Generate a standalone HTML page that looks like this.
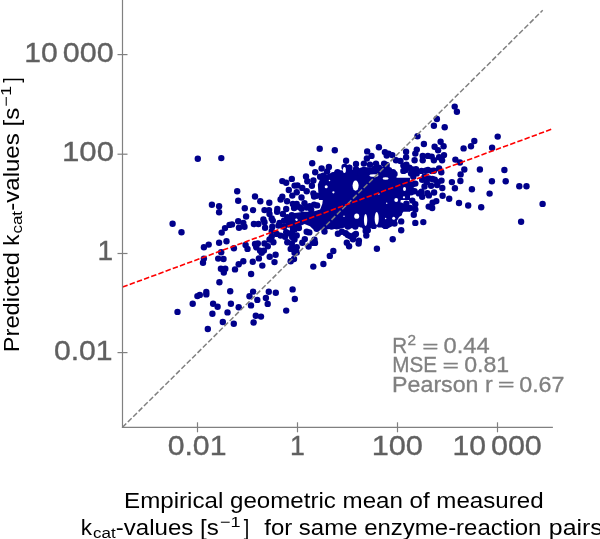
<!DOCTYPE html>
<html><head><meta charset="utf-8">
<style>
html,body{margin:0;padding:0;background:#fff;width:600px;height:539px;overflow:hidden}
svg{display:block;will-change:transform}
text{font-family:"Liberation Sans",sans-serif}
</style></head><body>
<svg width="600" height="539" viewBox="0 0 600 539">
<rect width="600" height="539" fill="#fff"/>
<!-- DOTS -->
<g id="dots" fill="#00008b"><polygon points="318.9,200.0 317.8,184.5 321.2,176.7 326.7,174.5 333.4,172.3 336.8,170.1 342.3,171.2 347.9,165.6 350.0,164.5 350.0,200.0"/><polygon points="350.0,170.1 356.7,168.9 363.4,166.7 370.0,167.8 377.8,166.7 383.4,166.7 387.8,168.9 394.5,174.5 396.8,177.8 410.0,177.8 410.0,200.0 350.0,200.0"/><polygon points="290.0,213.4 296.7,212.8 303.4,211.7 312.3,211.7 316.7,210.6 320.1,209.5 322.3,203.9 323.4,195.0 350.0,195.0 350.0,228.4 345.7,227.3 341.2,228.4 336.8,229.5 332.3,228.4 326.7,229.5 321.2,229.5 316.7,231.7 312.3,228.4 310.0,226.2 304.5,223.9 300.0,226.2 296.7,228.4 293.3,230.6 290.0,231.7"/><polygon points="350.0,195.0 392.3,195.0 394.5,200.6 402.3,202.8 405.7,205.0 407.9,203.9 410.0,206.1 410.0,211.7 403.4,211.7 399.0,217.3 394.5,225.1 387.8,228.4 383.4,228.4 377.8,225.1 374.5,227.3 368.9,228.4 364.5,231.7 361.1,226.2 356.7,227.3 350.0,228.4"/><circle cx="197.8" cy="158.8" r="3.2"/><circle cx="221.3" cy="158.1" r="3.2"/><circle cx="172.6" cy="223.8" r="3.2"/><circle cx="181.5" cy="232.2" r="3.2"/><circle cx="211.9" cy="204.8" r="3.2"/><circle cx="219.1" cy="206.3" r="3.2"/><circle cx="219.1" cy="212.3" r="3.2"/><circle cx="237.2" cy="191.2" r="3.2"/><circle cx="238.2" cy="200.8" r="3.2"/><circle cx="238.2" cy="221.2" r="3.2"/><circle cx="232.0" cy="224.4" r="3.2"/><circle cx="229.5" cy="224.9" r="3.2"/><circle cx="225.0" cy="228.1" r="3.2"/><circle cx="239.0" cy="227.8" r="3.2"/><circle cx="221.7" cy="232.6" r="3.2"/><circle cx="226.5" cy="241.2" r="3.2"/><circle cx="219.1" cy="242.7" r="3.2"/><circle cx="208.7" cy="244.6" r="3.2"/><circle cx="203.9" cy="247.3" r="3.2"/><circle cx="233.9" cy="248.3" r="3.2"/><circle cx="221.2" cy="252.3" r="3.2"/><circle cx="203.9" cy="258.6" r="3.2"/><circle cx="203.0" cy="262.7" r="3.2"/><circle cx="218.2" cy="258.6" r="3.2"/><circle cx="223.5" cy="259.0" r="3.2"/><circle cx="238.7" cy="264.2" r="3.2"/><circle cx="220.9" cy="268.7" r="3.2"/><circle cx="225.3" cy="268.7" r="3.2"/><circle cx="235.0" cy="269.4" r="3.2"/><circle cx="223.8" cy="272.6" r="3.2"/><circle cx="219.4" cy="282.3" r="3.2"/><circle cx="230.2" cy="291.2" r="3.2"/><circle cx="206.3" cy="291.9" r="3.2"/><circle cx="206.3" cy="294.4" r="3.2"/><circle cx="199.8" cy="294.9" r="3.2"/><circle cx="197.4" cy="296.1" r="3.2"/><circle cx="192.7" cy="303.8" r="3.2"/><circle cx="177.5" cy="311.9" r="3.2"/><circle cx="213.1" cy="303.8" r="3.2"/><circle cx="217.6" cy="306.8" r="3.2"/><circle cx="230.9" cy="303.8" r="3.2"/><circle cx="238.7" cy="307.2" r="3.2"/><circle cx="227.5" cy="312.4" r="3.2"/><circle cx="212.4" cy="313.7" r="3.2"/><circle cx="222.8" cy="322.0" r="3.2"/><circle cx="233.8" cy="323.8" r="3.2"/><circle cx="207.8" cy="329.0" r="3.2"/><circle cx="312.2" cy="163.3" r="3.2"/><circle cx="244.8" cy="208.2" r="3.2"/><circle cx="246.1" cy="216.5" r="3.2"/><circle cx="243.3" cy="222.9" r="3.2"/><circle cx="255.0" cy="196.5" r="3.2"/><circle cx="260.3" cy="201.2" r="3.2"/><circle cx="253.1" cy="210.1" r="3.2"/><circle cx="269.3" cy="202.8" r="3.2"/><circle cx="264.5" cy="210.1" r="3.2"/><circle cx="269.0" cy="210.1" r="3.2"/><circle cx="263.4" cy="219.5" r="3.2"/><circle cx="269.5" cy="214.0" r="3.2"/><circle cx="271.7" cy="218.4" r="3.2"/><circle cx="253.9" cy="224.0" r="3.2"/><circle cx="258.4" cy="224.0" r="3.2"/><circle cx="277.3" cy="209.0" r="3.2"/><circle cx="277.1" cy="211.8" r="3.2"/><circle cx="282.3" cy="181.1" r="3.2"/><circle cx="286.2" cy="182.8" r="3.2"/><circle cx="291.8" cy="178.9" r="3.2"/><circle cx="288.8" cy="190.0" r="3.2"/><circle cx="282.3" cy="196.7" r="3.2"/><circle cx="280.6" cy="199.5" r="3.2"/><circle cx="287.1" cy="201.2" r="3.2"/><circle cx="292.3" cy="195.6" r="3.2"/><circle cx="292.9" cy="204.0" r="3.2"/><circle cx="286.2" cy="209.0" r="3.2"/><circle cx="294.6" cy="185.6" r="3.2"/><circle cx="282.9" cy="214.0" r="3.2"/><circle cx="287.3" cy="217.3" r="3.2"/><circle cx="291.8" cy="215.1" r="3.2"/><circle cx="284.0" cy="220.7" r="3.2"/><circle cx="289.5" cy="221.8" r="3.2"/><circle cx="294.0" cy="220.7" r="3.2"/><circle cx="279.5" cy="222.9" r="3.2"/><circle cx="244.5" cy="226.7" r="3.2"/><circle cx="265.1" cy="227.8" r="3.2"/><circle cx="264.5" cy="222.2" r="3.2"/><circle cx="272.8" cy="220.6" r="3.2"/><circle cx="272.3" cy="226.7" r="3.2"/><circle cx="278.4" cy="225.6" r="3.2"/><circle cx="271.7" cy="231.1" r="3.2"/><circle cx="245.6" cy="245.0" r="3.2"/><circle cx="247.5" cy="248.9" r="3.2"/><circle cx="255.0" cy="243.9" r="3.2"/><circle cx="257.8" cy="243.4" r="3.2"/><circle cx="256.2" cy="247.3" r="3.2"/><circle cx="260.0" cy="250.6" r="3.2"/><circle cx="263.9" cy="250.6" r="3.2"/><circle cx="261.7" cy="252.8" r="3.2"/><circle cx="264.5" cy="243.4" r="3.2"/><circle cx="267.8" cy="246.2" r="3.2"/><circle cx="269.5" cy="239.5" r="3.2"/><circle cx="273.4" cy="242.3" r="3.2"/><circle cx="271.7" cy="236.7" r="3.2"/><circle cx="276.7" cy="233.9" r="3.2"/><circle cx="280.6" cy="235.6" r="3.2"/><circle cx="286.2" cy="232.2" r="3.2"/><circle cx="284.0" cy="226.7" r="3.2"/><circle cx="288.4" cy="224.5" r="3.2"/><circle cx="292.9" cy="227.8" r="3.2"/><circle cx="285.1" cy="236.7" r="3.2"/><circle cx="289.5" cy="233.4" r="3.2"/><circle cx="294.0" cy="235.6" r="3.2"/><circle cx="287.3" cy="242.3" r="3.2"/><circle cx="291.8" cy="243.4" r="3.2"/><circle cx="290.7" cy="248.9" r="3.2"/><circle cx="294.0" cy="247.8" r="3.2"/><circle cx="258.9" cy="258.4" r="3.2"/><circle cx="252.8" cy="261.7" r="3.2"/><circle cx="243.3" cy="261.2" r="3.2"/><circle cx="262.3" cy="265.6" r="3.2"/><circle cx="251.1" cy="274.0" r="3.2"/><circle cx="269.7" cy="256.7" r="3.2"/><circle cx="275.6" cy="254.7" r="3.2"/><circle cx="274.5" cy="262.1" r="3.2"/><circle cx="290.7" cy="261.2" r="3.2"/><circle cx="294.0" cy="259.0" r="3.2"/><circle cx="253.1" cy="291.6" r="3.2"/><circle cx="249.5" cy="296.2" r="3.2"/><circle cx="257.3" cy="299.9" r="3.2"/><circle cx="251.0" cy="305.4" r="3.2"/><circle cx="268.8" cy="291.8" r="3.2"/><circle cx="275.8" cy="292.8" r="3.2"/><circle cx="265.9" cy="298.0" r="3.2"/><circle cx="267.7" cy="303.9" r="3.2"/><circle cx="292.6" cy="289.4" r="3.2"/><circle cx="294.8" cy="299.0" r="3.2"/><circle cx="286.2" cy="310.6" r="3.2"/><circle cx="255.8" cy="315.8" r="3.2"/><circle cx="261.0" cy="316.6" r="3.2"/><circle cx="253.6" cy="322.5" r="3.2"/><circle cx="319.7" cy="148.7" r="3.2"/><circle cx="334.8" cy="150.2" r="3.2"/><circle cx="367.2" cy="151.4" r="3.2"/><circle cx="346.1" cy="160.8" r="3.2"/><circle cx="356.0" cy="164.0" r="3.2"/><circle cx="363.9" cy="163.6" r="3.2"/><circle cx="366.9" cy="158.5" r="3.2"/><circle cx="321.6" cy="168.5" r="3.2"/><circle cx="328.9" cy="167.0" r="3.2"/><circle cx="315.2" cy="172.2" r="3.2"/><circle cx="344.6" cy="167.0" r="3.2"/><circle cx="349.4" cy="167.7" r="3.2"/><circle cx="356.0" cy="169.2" r="3.2"/><circle cx="337.5" cy="172.2" r="3.2"/><circle cx="327.1" cy="171.4" r="3.2"/><circle cx="417.5" cy="136.3" r="3.2"/><circle cx="423.9" cy="144.0" r="3.2"/><circle cx="378.9" cy="147.2" r="3.2"/><circle cx="384.9" cy="152.1" r="3.2"/><circle cx="388.6" cy="153.6" r="3.2"/><circle cx="392.3" cy="155.1" r="3.2"/><circle cx="406.1" cy="151.7" r="3.2"/><circle cx="416.8" cy="149.6" r="3.2"/><circle cx="415.3" cy="153.6" r="3.2"/><circle cx="406.1" cy="157.3" r="3.2"/><circle cx="414.6" cy="160.3" r="3.2"/><circle cx="422.7" cy="155.9" r="3.2"/><circle cx="427.9" cy="155.9" r="3.2"/><circle cx="422.7" cy="160.3" r="3.2"/><circle cx="371.5" cy="155.9" r="3.2"/><circle cx="376.0" cy="163.6" r="3.2"/><circle cx="384.1" cy="163.6" r="3.2"/><circle cx="396.0" cy="160.3" r="3.2"/><circle cx="400.5" cy="161.0" r="3.2"/><circle cx="370.0" cy="164.8" r="3.2"/><circle cx="386.4" cy="167.7" r="3.2"/><circle cx="406.4" cy="164.8" r="3.2"/><circle cx="409.4" cy="167.7" r="3.2"/><circle cx="416.0" cy="169.2" r="3.2"/><circle cx="355.9" cy="172.2" r="3.2"/><circle cx="360.4" cy="172.9" r="3.2"/><circle cx="367.8" cy="170.7" r="3.2"/><circle cx="376.7" cy="169.2" r="3.2"/><circle cx="393.0" cy="172.2" r="3.2"/><circle cx="425.7" cy="170.7" r="3.2"/><circle cx="454.7" cy="106.6" r="3.2"/><circle cx="456.9" cy="111.8" r="3.2"/><circle cx="436.9" cy="119.0" r="3.2"/><circle cx="433.9" cy="125.7" r="3.2"/><circle cx="444.7" cy="127.2" r="3.2"/><circle cx="497.7" cy="136.6" r="3.2"/><circle cx="474.3" cy="141.0" r="3.2"/><circle cx="471.0" cy="146.2" r="3.2"/><circle cx="463.6" cy="148.4" r="3.2"/><circle cx="492.1" cy="147.7" r="3.2"/><circle cx="440.6" cy="141.8" r="3.2"/><circle cx="443.6" cy="146.2" r="3.2"/><circle cx="434.6" cy="146.7" r="3.2"/><circle cx="438.1" cy="150.2" r="3.2"/><circle cx="431.7" cy="156.6" r="3.2"/><circle cx="433.9" cy="160.3" r="3.2"/><circle cx="439.1" cy="157.3" r="3.2"/><circle cx="444.0" cy="155.1" r="3.2"/><circle cx="442.1" cy="160.3" r="3.2"/><circle cx="428.0" cy="170.0" r="3.2"/><circle cx="433.9" cy="170.7" r="3.2"/><circle cx="439.1" cy="168.5" r="3.2"/><circle cx="441.3" cy="172.2" r="3.2"/><circle cx="455.4" cy="159.6" r="3.2"/><circle cx="459.9" cy="162.5" r="3.2"/><circle cx="464.3" cy="169.5" r="3.2"/><circle cx="479.9" cy="169.5" r="3.2"/><circle cx="504.4" cy="170.0" r="3.2"/><circle cx="460.6" cy="174.4" r="3.2"/><circle cx="491.9" cy="181.3" r="3.2"/><circle cx="505.7" cy="181.3" r="3.2"/><circle cx="519.3" cy="186.2" r="3.2"/><circle cx="526.5" cy="186.2" r="3.2"/><circle cx="489.6" cy="193.6" r="3.2"/><circle cx="481.2" cy="207.3" r="3.2"/><circle cx="542.6" cy="203.9" r="3.2"/><circle cx="521.1" cy="221.7" r="3.2"/><circle cx="460.4" cy="181.0" r="3.2"/><circle cx="451.9" cy="182.1" r="3.2"/><circle cx="454.9" cy="188.3" r="3.2"/><circle cx="471.9" cy="189.2" r="3.2"/><circle cx="442.6" cy="195.7" r="3.2"/><circle cx="449.2" cy="198.8" r="3.2"/><circle cx="459.0" cy="203.0" r="3.2"/><circle cx="468.2" cy="205.5" r="3.2"/><circle cx="436.3" cy="201.1" r="3.2"/><circle cx="432.6" cy="202.8" r="3.2"/><circle cx="432.2" cy="208.0" r="3.2"/><circle cx="423.3" cy="222.1" r="3.2"/><circle cx="421.5" cy="170.9" r="3.2"/><circle cx="431.9" cy="170.9" r="3.2"/><circle cx="422.2" cy="179.8" r="3.2"/><circle cx="428.9" cy="178.4" r="3.2"/><circle cx="434.8" cy="179.8" r="3.2"/><circle cx="441.5" cy="180.6" r="3.2"/><circle cx="424.5" cy="186.5" r="3.2"/><circle cx="431.1" cy="185.8" r="3.2"/><circle cx="437.1" cy="185.0" r="3.2"/><circle cx="442.3" cy="188.0" r="3.2"/><circle cx="421.5" cy="191.7" r="3.2"/><circle cx="427.4" cy="193.2" r="3.2"/><circle cx="434.1" cy="192.5" r="3.2"/><circle cx="428.9" cy="195.4" r="3.2"/><circle cx="401.2" cy="221.4" r="3.2"/><circle cx="415.3" cy="222.9" r="3.2"/><circle cx="401.2" cy="230.3" r="3.2"/><circle cx="392.7" cy="239.2" r="3.2"/><circle cx="366.3" cy="235.5" r="3.2"/><circle cx="355.9" cy="234.0" r="3.2"/><circle cx="358.9" cy="240.7" r="3.2"/><circle cx="353.0" cy="239.2" r="3.2"/><circle cx="413.8" cy="214.7" r="3.2"/><circle cx="415.3" cy="209.5" r="3.2"/><circle cx="410.1" cy="208.0" r="3.2"/><circle cx="415.3" cy="204.3" r="3.2"/><circle cx="412.3" cy="200.6" r="3.2"/><circle cx="406.4" cy="203.6" r="3.2"/><circle cx="401.9" cy="207.3" r="3.2"/><circle cx="399.0" cy="213.2" r="3.2"/><circle cx="394.5" cy="223.6" r="3.2"/><circle cx="385.6" cy="225.9" r="3.2"/><circle cx="379.7" cy="224.4" r="3.2"/><circle cx="373.7" cy="225.9" r="3.2"/><circle cx="367.8" cy="230.3" r="3.2"/><circle cx="361.9" cy="224.4" r="3.2"/><circle cx="353.0" cy="224.4" r="3.2"/><circle cx="415.3" cy="183.6" r="3.2"/><circle cx="410.9" cy="189.5" r="3.2"/><circle cx="407.1" cy="194.7" r="3.2"/><circle cx="428.7" cy="206.6" r="3.2"/><circle cx="400.5" cy="196.9" r="3.2"/><circle cx="397.5" cy="200.6" r="3.2"/><circle cx="394.5" cy="173.9" r="3.2"/><circle cx="403.4" cy="170.9" r="3.2"/><circle cx="412.3" cy="169.5" r="3.2"/><circle cx="387.1" cy="176.9" r="3.2"/><circle cx="384.1" cy="169.5" r="3.2"/><circle cx="306.0" cy="176.5" r="3.2"/><circle cx="297.5" cy="185.4" r="3.2"/><circle cx="302.3" cy="187.9" r="3.2"/><circle cx="313.4" cy="180.5" r="3.2"/><circle cx="311.9" cy="185.7" r="3.2"/><circle cx="324.5" cy="177.5" r="3.2"/><circle cx="333.4" cy="175.3" r="3.2"/><circle cx="301.5" cy="197.5" r="3.2"/><circle cx="299.3" cy="207.1" r="3.2"/><circle cx="337.9" cy="233.8" r="3.2"/><circle cx="346.8" cy="242.7" r="3.2"/><circle cx="354.2" cy="235.3" r="3.2"/><circle cx="324.5" cy="231.6" r="3.2"/><circle cx="312.7" cy="242.7" r="3.2"/><circle cx="302.3" cy="242.7" r="3.2"/><circle cx="313.3" cy="266.6" r="3.2"/><circle cx="323.4" cy="264.0" r="3.2"/><circle cx="329.8" cy="255.9" r="3.2"/><circle cx="333.3" cy="251.0" r="3.2"/><circle cx="296.7" cy="252.5" r="3.2"/><circle cx="308.6" cy="246.5" r="3.2"/><circle cx="314.5" cy="239.8" r="3.2"/><circle cx="304.8" cy="239.1" r="3.2"/><circle cx="292.2" cy="236.9" r="3.2"/><circle cx="296.7" cy="235.4" r="3.2"/><circle cx="309.3" cy="232.4" r="3.2"/><circle cx="316.7" cy="228.7" r="3.2"/><circle cx="331.6" cy="226.5" r="3.2"/><circle cx="341.9" cy="231.7" r="3.2"/><circle cx="345.7" cy="233.2" r="3.2"/><circle cx="349.1" cy="246.2" r="3.2"/><circle cx="350.1" cy="236.1" r="3.2"/><circle cx="358.6" cy="243.6" r="3.2"/><circle cx="365.7" cy="230.9" r="3.2"/><circle cx="347.9" cy="226.5" r="3.2"/><circle cx="355.3" cy="226.5" r="3.2"/><circle cx="298.9" cy="228.0" r="3.2"/><circle cx="294.5" cy="229.5" r="3.2"/><circle cx="376.9" cy="248.7" r="3.2"/><circle cx="307.3" cy="181.2" r="3.2"/><circle cx="306.7" cy="191.2" r="3.2"/><circle cx="296.7" cy="192.3" r="3.2"/><circle cx="313.4" cy="193.4" r="3.2"/><circle cx="316.7" cy="195.7" r="3.2"/><circle cx="320.1" cy="176.7" r="3.2"/><circle cx="323.4" cy="175.6" r="3.2"/><circle cx="341.2" cy="173.4" r="3.2"/><circle cx="386.7" cy="155.6" r="3.2"/><circle cx="386.7" cy="165.0" r="3.2"/><circle cx="403.4" cy="165.6" r="3.2"/><circle cx="405.7" cy="170.1" r="3.2"/><circle cx="389.0" cy="170.1" r="3.2"/><circle cx="370.0" cy="171.2" r="3.2"/><circle cx="374.5" cy="168.9" r="3.2"/><circle cx="378.9" cy="167.8" r="3.2"/><circle cx="411.1" cy="173.4" r="3.2"/><circle cx="416.7" cy="173.4" r="3.2"/><circle cx="413.3" cy="176.7" r="3.2"/><circle cx="412.2" cy="184.5" r="3.2"/><circle cx="414.5" cy="191.2" r="3.2"/><circle cx="411.1" cy="192.3" r="3.2"/><circle cx="418.9" cy="193.4" r="3.2"/><circle cx="424.5" cy="176.7" r="3.2"/><circle cx="426.7" cy="182.3" r="3.2"/><circle cx="432.3" cy="179.0" r="3.2"/><circle cx="437.8" cy="182.3" r="3.2"/><circle cx="422.2" cy="196.8" r="3.2"/><circle cx="315.0" cy="242.9" r="3.2"/><circle cx="347.9" cy="235.1" r="3.2"/><circle cx="292.2" cy="234.0" r="3.2"/><circle cx="294.5" cy="239.5" r="3.2"/><circle cx="296.7" cy="247.3" r="3.2"/><circle cx="294.5" cy="252.9" r="3.2"/><circle cx="306.7" cy="231.7" r="3.2"/><circle cx="296.7" cy="203.9" r="3.2"/><circle cx="352.2" cy="237.3" r="3.2"/><circle cx="304.5" cy="203.2" r="3.2"/><circle cx="301.5" cy="208.7" r="3.2"/><circle cx="294.1" cy="208.0" r="3.2"/><circle cx="306.7" cy="207.6" r="3.2"/><circle cx="309.7" cy="206.1" r="3.2"/><circle cx="311.2" cy="209.8" r="3.2"/><circle cx="314.1" cy="204.6" r="3.2"/><circle cx="317.1" cy="205.4" r="3.2"/><circle cx="314.1" cy="196.5" r="3.2"/></g><g id="holes" fill="#fff"><ellipse cx="326.2" cy="186.8" rx="1.50" ry="1.50"/><ellipse cx="329.5" cy="180.6" rx="0.75" ry="0.75"/><ellipse cx="333.4" cy="192.3" rx="1.12" ry="1.12"/><ellipse cx="355.6" cy="185.6" rx="3.00" ry="5.03"/><ellipse cx="404.5" cy="189.0" rx="1.50" ry="1.88"/><ellipse cx="404.0" cy="197.3" rx="1.12" ry="1.12"/><ellipse cx="378.9" cy="194.0" rx="0.75" ry="0.75"/><ellipse cx="385.6" cy="178.4" rx="3.00" ry="1.27"/><ellipse cx="373.9" cy="175.4" rx="4.50" ry="1.27"/><ellipse cx="344.4" cy="170.1" rx="1.50" ry="3.00"/><ellipse cx="296.7" cy="220.0" rx="0.90" ry="0.90"/><ellipse cx="344.0" cy="216.2" rx="0.75" ry="0.75"/><ellipse cx="296.3" cy="219.5" rx="1.12" ry="1.12"/><ellipse cx="356.7" cy="216.2" rx="2.47" ry="2.62"/><ellipse cx="365.6" cy="220.0" rx="1.65" ry="6.00"/><ellipse cx="376.7" cy="218.4" rx="2.03" ry="6.38"/><ellipse cx="393.7" cy="218.3" rx="1.50" ry="1.50"/><ellipse cx="386.7" cy="203.3" rx="0.75" ry="0.75"/><ellipse cx="385.6" cy="218.4" rx="0.75" ry="0.75"/><ellipse cx="396.2" cy="200.0" rx="1.88" ry="1.88"/></g>
<!-- identity line -->
<line x1="122.5" y1="427.3" x2="542.7" y2="10.3" stroke="#808080" stroke-width="1.5" stroke-dasharray="5.3 2.25"/>
<!-- regression line -->
<line x1="122.5" y1="287.1" x2="552" y2="129.05" stroke="#ff0000" stroke-width="1.6" stroke-dasharray="5.45 2.2"/>
<!-- spines -->
<g stroke="#808080" stroke-width="1.2" fill="none">
<line x1="122.5" y1="0" x2="122.5" y2="427.9"/>
<line x1="121.9" y1="427.4" x2="552.9" y2="427.4"/>
<line x1="117.5" y1="54.6" x2="127.5" y2="54.6"/>
<line x1="117.5" y1="154.2" x2="127.5" y2="154.2"/>
<line x1="117.5" y1="253.5" x2="127.5" y2="253.5"/>
<line x1="117.5" y1="352.6" x2="127.5" y2="352.6"/>
<line x1="197.5" y1="422.3" x2="197.5" y2="432.3"/>
<line x1="297.5" y1="422.3" x2="297.5" y2="432.3"/>
<line x1="397.5" y1="422.3" x2="397.5" y2="432.3"/>
<line x1="497.5" y1="422.3" x2="497.5" y2="432.3"/>
</g>
<!-- tick labels -->
<g>
<text transform="translate(24.27,61.95) scale(1.0667,1)" font-size="28.3" fill="#606060" stroke="#606060" stroke-width="0.35">10</text><text transform="translate(62.72,61.95) scale(1.0785,1)" font-size="28.3" fill="#606060" stroke="#606060" stroke-width="0.35">000</text>
<text transform="translate(61.99,161.15) scale(1.1028,1)" font-size="28.3" fill="#606060" stroke="#606060" stroke-width="0.35">100</text>
<text transform="translate(97.62,259.8) scale(0.992,1)" font-size="28.3" fill="#606060" stroke="#606060" stroke-width="0.35">1</text>
<text transform="translate(53.93,359.75) scale(1.0654,1)" font-size="28.3" fill="#606060" stroke="#606060" stroke-width="0.35">0.01</text>
<text transform="translate(167.63,455.35) scale(1.0692,1)" font-size="28.3" fill="#606060" stroke="#606060" stroke-width="0.35">0.01</text>
<text transform="translate(290.01,455.4) scale(0.944,1)" font-size="28.3" fill="#606060" stroke="#606060" stroke-width="0.35">1</text>
<text transform="translate(371.63,455.35) scale(1.087,1)" font-size="28.3" fill="#606060" stroke="#606060" stroke-width="0.35">100</text>
<text transform="translate(452.47,455.35) scale(1.0667,1)" font-size="28.3" fill="#606060" stroke="#606060" stroke-width="0.35">10</text><text transform="translate(490.92,455.35) scale(1.0785,1)" font-size="28.3" fill="#606060" stroke="#606060" stroke-width="0.35">000</text>
</g>
<!-- stats -->
<g fill="#808080" stroke="#808080" stroke-width="0.3">
<text transform="translate(392.32,352.9) scale(0.9608,1)" font-size="21.5">R</text>
<text transform="translate(407.46,344.8) scale(0.9931,1)" font-size="15.5">2</text>
<text transform="translate(422.2,351.5) scale(1.2952,0.8)" font-size="21.5">=</text>
<text transform="translate(443.57,352.9) scale(1.1012,1)" font-size="21.5">0.44</text>
<text transform="translate(392.32,372.0) scale(0.9614,1)" font-size="21.5">MSE</text>
<text transform="translate(442.39,370.6) scale(1.3143,0.8)" font-size="21.5">=</text>
<text transform="translate(464.19,372.0) scale(1.0758,1)" font-size="21.5">0.81</text>
<text transform="translate(392.11,391.6) scale(1.0795,1)" font-size="21.5">Pearson r</text>
<text transform="translate(497.86,390.2) scale(1.3429,0.8)" font-size="21.5">=</text>
<text transform="translate(519.19,391.6) scale(1.0825,1)" font-size="21.5">0.67</text>
</g>
<!-- axis labels -->
<g fill="#000">
<text transform="translate(124.12,507.5) scale(1.0725,1)" font-size="22.5">Empirical geometric mean of measured</text>
<g transform="translate(82.25,534.5)"><text transform="translate(-1.5,0)" font-size="22.5">k</text><text transform="translate(10.69,3) scale(1.119,1)" font-size="15.2">cat</text><text transform="translate(33.48,0) scale(1.0709,1)" font-size="22.5">-values [s</text><text transform="translate(137.65,-8) scale(1.2063,1)" font-size="15">−1</text><text transform="translate(161.55,0) scale(0.8842,1)" font-size="22.5">]</text></g>
<text transform="translate(264.23,534.5) scale(1.0658,1)" font-size="22.5">for same enzyme-reaction</text>
<text transform="translate(548.84,534.5) scale(1.1049,1)" font-size="22.5">pairs</text>
<g transform="translate(18.9,244.3) rotate(-90)"><text transform="translate(-1.5,0)" font-size="22.5">k</text><text transform="translate(10.69,3) scale(1.119,1)" font-size="15.2">cat</text><text transform="translate(33.48,0) scale(1.0709,1)" font-size="22.5">-values [s</text><text transform="translate(137.65,-8) scale(1.2063,1)" font-size="15">−1</text><text transform="translate(161.55,0) scale(0.8842,1)" font-size="22.5">]</text><text transform="translate(-108.03,0) scale(1.0469,1)" font-size="22.7">Predicted</text></g>
</g>
</svg>
</body></html>
